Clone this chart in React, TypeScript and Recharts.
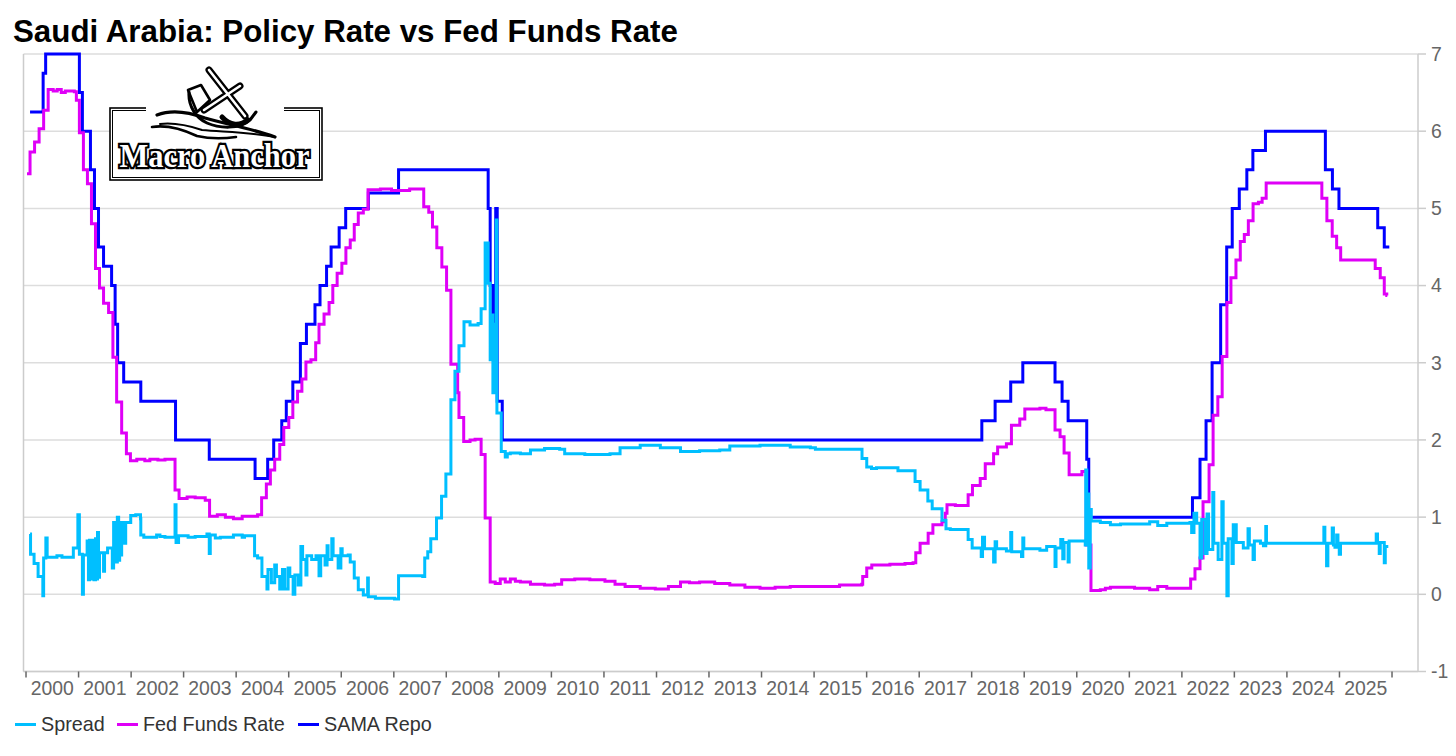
import { CartesianGrid, Line, LineChart, ReferenceLine, XAxis, YAxis } from "recharts";

// x values are weeks since the start of 2000
const samaRepo = [
  [4, 6.25], [17, 6.75], [19.5, 7], [53, 6.5], [56, 6], [64, 5.5], [68, 5], [72, 4.5], [77, 4.25], [85, 4],
  [88.5, 3.5], [91, 3], [97, 2.75], [114, 2.5], [148.5, 2], [182, 1.75], [227.5, 1.5], [240, 1.75], [246, 2],
  [254, 2.25], [258.5, 2.5], [265, 2.75], [272.5, 3.25], [278.5, 3.5], [287, 3.75], [292, 4], [298.5, 4.25],
  [303, 4.5], [311, 4.75], [317.5, 5], [340, 5.2], [370, 5.5], [459, 5], [461, 4], [463.5, 3.5], [466.5, 5],
  [468, 2.5], [473, 2], [949.3, 2.25], [962.5, 2.5], [978, 2.75], [990, 3], [1022, 2.75], [1029, 2.5],
  [1035, 2.25], [1053.5, 1.75], [1055.5, 1], [1158.5, 1.25], [1166, 1.75], [1172, 2.25], [1178, 3],
  [1186.5, 3.75], [1192.5, 4.5], [1198, 5], [1205, 5.25], [1212.5, 5.5], [1218.5, 5.75], [1231, 6],
  [1290.5, 5.5], [1297.5, 5.25], [1304, 5], [1342.5, 4.75], [1349, 4.5], [1354, 4.5],
];

const fedFunds = [
  [1, 5.45], [4, 5.73], [8.5, 5.86], [13, 6.03], [17.5, 6.27], [22, 6.54], [27, 6.52], [31, 6.54], [35, 6.5],
  [39, 6.52], [48, 6.51], [50, 6.4], [53, 5.98], [57, 5.5], [61, 5.32], [65, 4.8], [69, 4.22], [73, 3.97],
  [77, 3.77], [82, 3.65], [86.3, 3.07], [90, 2.49], [95, 2.09], [99.7, 1.82], [103.7, 1.73], [110, 1.75],
  [118, 1.73], [123, 1.75], [131, 1.74], [138, 1.75], [148, 1.35], [152, 1.24], [160, 1.26], [168, 1.25],
  [178, 1.22], [182.3, 1.01], [190, 1.03], [198, 1], [206, 0.98], [214.7, 1.01], [230, 1.03], [234, 1.25],
  [238.7, 1.43], [242.7, 1.61], [247, 1.75], [252, 1.94], [256, 2.16], [261, 2.29], [265, 2.49], [269.7, 2.63],
  [274, 2.79], [278, 3.01], [283, 3.04], [287.7, 3.26], [291, 3.5], [296, 3.63], [301, 3.78], [304.7, 4],
  [309, 4.16], [313.7, 4.29], [317.7, 4.49], [322, 4.59], [326, 4.79], [330, 4.94], [335, 4.99], [339.7, 5.24],
  [352, 5.25], [363, 5.23], [381, 5.25], [395, 5.02], [400, 4.95], [403.7, 4.76], [408, 4.49], [413, 4.24],
  [417.7, 3.94], [422, 2.98], [428.7, 2.61], [430, 2.29], [434.7, 1.98], [441, 2], [446, 2.01], [452, 1.81],
  [456, 0.99], [461, 0.16], [466, 0.14], [471, 0.2], [476, 0.16], [481, 0.2], [486, 0.17], [491, 0.16],
  [501, 0.13], [515, 0.12], [525, 0.13], [532, 0.19], [545, 0.2], [560, 0.19], [575, 0.17], [585, 0.13],
  [595, 0.1], [610, 0.08], [625, 0.07], [638, 0.1], [650, 0.16], [659, 0.15], [669, 0.16], [684, 0.14],
  [699, 0.12], [714, 0.09], [729, 0.08], [744, 0.09], [759, 0.1], [784, 0.1], [808, 0.12], [830, 0.13],
  [831, 0.23], [835, 0.34], [840, 0.38], [858, 0.39], [873, 0.4], [881, 0.41], [883.7, 0.54], [888, 0.66],
  [896, 0.79], [900.7, 0.9], [909.7, 0.94], [913, 1.05], [914.7, 1.16], [923, 1.15], [935.7, 1.29], [940, 1.41],
  [947.7, 1.5], [952.7, 1.69], [961, 1.82], [965, 1.91], [973.7, 1.95], [978.7, 2.19], [987, 2.27], [992, 2.4],
  [1007, 2.41], [1013, 2.39], [1022, 2.13], [1027, 2.04], [1031, 1.83], [1036, 1.55], [1048.7, 1.59], [1053, 0.64],
  [1057.7, 0.05], [1067, 0.06], [1072, 0.08], [1077, 0.09], [1101, 0.08], [1116, 0.06], [1124, 0.1], [1133, 0.08],
  [1156.7, 0.2], [1161, 0.33], [1166, 0.47], [1169, 1.2], [1175, 1.68], [1179, 2.32], [1183.7, 2.56], [1188, 3.08],
  [1192.7, 3.78], [1196.7, 4.1], [1201.7, 4.33], [1206, 4.57], [1210, 4.66], [1214, 4.84], [1218.7, 5.06],
  [1224, 5.08], [1227.7, 5.13], [1231.7, 5.33], [1287, 5.13], [1292, 4.84], [1297.3, 4.64], [1301.7, 4.49],
  [1305.7, 4.33], [1340, 4.22], [1345, 4.1], [1349, 3.89], [1351.5, 3.87], [1352, 3.87],
];

const spread = [
  [4, 0.78], [4.5, 0.52], [8, 0.4], [12, 0.23], [16.7, -0.02], [17.5, 0.47], [19.7, 0.73], [21, 0.48], [30.7, 0.5],
  [35.7, 0.48], [47, 0.6], [51.5, 1.03], [53, 0.52], [56, 0], [57, 0.51], [60.7, 0.69], [62, 0.19], [63, 0.7],
  [65, 0.2], [66, 0.7], [67.5, 0.19], [69, 0.72], [70, 0.2], [71, 0.8], [72, 0.22], [73, 0.54], [77, 0.3], [78, 0.54],
  [81, 0.6], [85.7, 0.34], [87, 0.93], [88.5, 0.42], [90.7, 1], [92, 0.44], [93, 0.51], [95, 0.93], [98, 0.66],
  [99, 0.93], [104, 1.02], [109, 1.03], [113.7, 0.98], [114, 0.77], [117, 0.74], [123, 0.74], [129.7, 0.77],
  [133, 0.75], [138, 0.74], [148, 1.16], [149, 0.67], [151.5, 0.76], [161, 0.74], [168, 0.75], [179.7, 0.78],
  [182, 0.53], [183, 0.77], [188, 0.73], [193, 0.74], [206, 0.77], [214.7, 0.74], [217, 0.76], [227, 0.5], [230, 0.47],
  [234.3, 0.23], [239.3, 0.07], [240.3, 0.32], [243.7, 0.15], [247, 0.38], [248.7, 0.23], [252, 0.07], [254.7, 0.32],
  [257, 0.07], [260.3, 0.34], [262, 0.23], [265.3, 0], [267, 0.25], [270.3, 0.12], [273, 0.62], [274.7, 0.45], [278, 0.25],
  [279, 0.5], [283.7, 0.45], [288, 0.5], [291, 0.24], [292.7, 0.5], [297, 0.38], [299, 0.63], [300, 0.45], [303.7, 0.72],
  [305, 0.5], [310, 0.34], [312.7, 0.59], [314, 0.5], [320, 0.51], [322, 0.42], [326, 0.21], [330, 0.06], [335, -0.01],
  [339.3, 0.21], [340, -0.03], [347, -0.05], [357, -0.05], [366, -0.06], [370, 0.24], [394, 0.23], [396, 0.47],
  [399, 0.55], [402, 0.72], [407.7, 0.99], [412.7, 1.27], [417, 1.56], [422, 2.52], [426, 2.89], [430, 3.22], [435, 3.53],
  [441, 3.49], [449, 3.51], [452, 3.7], [456, 4.55], [459, 4.03], [461, 3.04], [462, 3.62], [463.7, 2.61], [465, 3.5],
  [467, 4.85], [467.7, 2.35], [472, 1.85], [476, 1.78], [478, 1.82], [481, 1.83], [491, 1.82], [501, 1.87], [515, 1.89],
  [530, 1.88], [535, 1.82], [555, 1.81], [580, 1.82], [590, 1.9], [610, 1.93], [630, 1.9], [650, 1.85], [669, 1.86],
  [689, 1.87], [699, 1.92], [729, 1.93], [759, 1.91], [779, 1.9], [784, 1.88], [808, 1.88], [830.3, 1.76], [835, 1.65],
  [839.7, 1.63], [844.7, 1.64], [866, 1.6], [883, 1.46], [888, 1.35], [895.7, 1.21], [900, 1.11], [909.7, 0.96],
  [913.7, 0.85], [918, 0.84], [935.7, 0.71], [939.7, 0.6], [948.7, 0.49], [950, 0.74], [952, 0.59], [961, 0.42],
  [962.5, 0.68], [964, 0.59], [973.7, 0.56], [978, 0.8], [979, 0.55], [988.7, 0.49], [990, 0.73], [991, 0.59], [1007, 0.57],
  [1013.7, 0.62], [1022, 0.36], [1023, 0.6], [1027.7, 0.71], [1029.7, 0.46], [1031, 0.67], [1035, 0.42], [1036, 0.69],
  [1052, 0.64], [1052.5, 1.61], [1053.5, 0.64], [1054.5, 1.3], [1055.5, 0.34], [1057, 1.1], [1058, 0.95], [1067, 0.93],
  [1077, 0.9], [1087, 0.91], [1101, 0.91], [1116, 0.94], [1124, 0.89], [1133, 0.92], [1156, 0.93], [1157.7, 0.8],
  [1160, 1.05], [1162.7, 0.92], [1166, 0.47], [1167.7, 0.97], [1171, 0.53], [1173, 1.04], [1174.5, 0.58], [1178.7, 1.32],
  [1179.7, 0.66], [1184, 0.45], [1187.7, 1.2], [1189, 0.66], [1192.7, -0.02], [1194, 0.72], [1197.7, 0.4], [1199, 0.9],
  [1202, 0.67], [1209, 0.6], [1213.7, 0.85], [1215, 0.64], [1218.7, 0.45], [1220, 0.69], [1226, 0.66], [1229, 0.63],
  [1231.3, 0.88], [1232, 0.66], [1289, 0.87], [1290, 0.66], [1291.7, 0.37], [1293, 0.66], [1297.3, 0.86], [1298.5, 0.64],
  [1300, 0.61], [1301.7, 0.77], [1303, 0.66], [1304.3, 0.52], [1305.5, 0.66], [1341, 0.78], [1342.3, 0.67], [1344, 0.53],
  [1345, 0.67], [1349, 0.41], [1350, 0.62], [1353, 0.62],
];

const yearStarts = [
  0, 52.2, 104.4, 156.5, 208.7, 260.9, 313.1, 365.3, 417.4, 469.6, 521.8, 574, 626.2, 678.3, 730.5, 782.7, 834.9,
  887.1, 939.2, 991.4, 1043.6, 1095.8, 1148, 1200.1, 1252.3, 1304.5, 1356.7,
];
const yearLabels = [
  "2000", "2001", "2002", "2003", "2004", "2005", "2006", "2007", "2008", "2009", "2010", "2011", "2012", "2013",
  "2014", "2015", "2016", "2017", "2018", "2019", "2020", "2021", "2022", "2023", "2024", "2025", "",
];
const rateTicks = [-1, 0, 1, 2, 3, 4, 5, 6, 7];

const SPREAD_COLOR = "#00bfff";
const FED_COLOR = "#df00f7";
const SAMA_COLOR = "#0000ff";
const FONT = "'Liberation Sans', Arial, sans-serif";

const legendItems = [
  { name: "Spread", color: SPREAD_COLOR, left: 15 },
  { name: "Fed Funds Rate", color: FED_COLOR, left: 117 },
  { name: "SAMA Repo", color: SAMA_COLOR, left: 298 },
];

const toRows = (pairs: number[][]) => pairs.map(([week, value]) => ({ week, value }));

const YearTick = ({ x, y, index }: any) => (
  <text x={x + 26.3} y={y + 15} textAnchor="middle" fontSize={19.4} fontFamily={FONT} fill="#666666">
    {yearLabels[index]}
  </text>
);

const Logo = () => (
  <svg width={230} height={125} viewBox="100 60 230 125" style={{ position: "absolute", left: 100, top: 60 }}>
    <rect x={110} y={108} width={212} height={72} fill="#fff" stroke="#000" strokeWidth={1.6} />
    <rect x={112.5} y={110.5} width={207} height={67} fill="none" stroke="#000" strokeWidth={1} />
    <rect x={146} y={100} width={138} height={14} fill="#fff" />
    <g fill="none" strokeLinecap="round" strokeLinejoin="round">
      <path d="M209 70 L245 116 M240 86 L204 110" stroke="#000" strokeWidth={7} />
      <path d="M209 70 L245 116 M240 86 L204 110" stroke="#fff" strokeWidth={2.6} />
      <path d="M188 90 L201 85 L210 100 L197 112 Z" stroke="#000" strokeWidth={2.6} fill="#fff" />
      <path d="M189 92 C188 106 196 118 207 123 C218 128 240 130 250 120 L256 112" stroke="#000" strokeWidth={3} />
      <path d="M222 117 C230 126 240 126 248 120" stroke="#000" strokeWidth={5} />
      <path d="M157 115 C170 110 186 111 205 118 C225 124 250 128 275 137" stroke="#000" strokeWidth={3.2} />
      <path d="M160 124 C176 122 190 126 202 130 C225 132 250 132 275 137" stroke="#000" strokeWidth={2} />
      <path d="M152 127 C165 125 178 127 197 136 C210 139 222 139 236 137" stroke="#000" strokeWidth={2.6} />
    </g>
    <text
      x={214.5}
      y={167}
      textAnchor="middle"
      textLength={190}
      lengthAdjust="spacingAndGlyphs"
      fontFamily="'Liberation Serif', serif"
      fontWeight="bold"
      fontSize={33}
      fill="#fff"
      stroke="#000"
      strokeWidth={4.5}
      paintOrder="stroke"
    >
      Macro Anchor
    </text>
  </svg>
);

export default function App() {
  return (
    <div style={{ position: "absolute", left: 0, top: 0, width: 1456, height: 756, background: "#fff", overflow: "hidden" }}>
      <LineChart width={1456} height={756} margin={{ top: 54, right: 0, bottom: 0, left: 23.5 }}>
        <CartesianGrid vertical={false} stroke="#dddddd" strokeWidth={1.5} />
        <XAxis
          dataKey="week"
          type="number"
          domain={[-2.5, 1382.5]}
          ticks={yearStarts}
          interval={0}
          height={84.5}
          tick={<YearTick />}
          tickSize={6}
          tickLine={{ stroke: "#666666", strokeWidth: 1.5 }}
          axisLine={{ stroke: "#cccccc", strokeWidth: 1.5 }}
        />
        <YAxis
          orientation="right"
          type="number"
          domain={[-1, 7]}
          ticks={rateTicks}
          interval={0}
          width={38}
          tickSize={8}
          tickMargin={5}
          tick={{ fill: "#666666", fontSize: 19.4, fontFamily: FONT }}
          tickLine={{ stroke: "#cccccc", strokeWidth: 1.5 }}
          axisLine={{ stroke: "#cccccc", strokeWidth: 1.5 }}
        />
        <ReferenceLine x={-2.5} stroke="#cccccc" strokeWidth={1.5} />
        <Line
          data={toRows(samaRepo)}
          dataKey="value"
          name="SAMA Repo"
          type="stepAfter"
          stroke={SAMA_COLOR}
          strokeWidth={3}
          dot={false}
          isAnimationActive={false}
        />
        <Line
          data={toRows(fedFunds)}
          dataKey="value"
          name="Fed Funds Rate"
          type="stepAfter"
          stroke={FED_COLOR}
          strokeWidth={3}
          dot={false}
          isAnimationActive={false}
        />
        <Line
          data={toRows(spread)}
          dataKey="value"
          name="Spread"
          type="stepAfter"
          stroke={SPREAD_COLOR}
          strokeWidth={3}
          dot={false}
          isAnimationActive={false}
        />
      </LineChart>
      <div
        style={{
          position: "absolute",
          left: 13,
          top: 15,
          fontFamily: FONT,
          fontWeight: "bold",
          fontSize: 31.3,
          lineHeight: "34px",
          color: "#000",
          whiteSpace: "nowrap",
        }}
      >
        Saudi Arabia: Policy Rate vs Fed Funds Rate
      </div>
      <Logo />
      {legendItems.map((item) => (
        <div
          key={item.name}
          style={{
            position: "absolute",
            left: item.left,
            top: 713,
            height: 22,
            display: "flex",
            alignItems: "center",
            fontFamily: FONT,
            fontSize: 19.8,
            color: "#333333",
            whiteSpace: "nowrap",
          }}
        >
          <span style={{ display: "inline-block", width: 21, height: 3, background: item.color, marginRight: 5 }} />
          {item.name}
        </div>
      ))}
    </div>
  );
}
